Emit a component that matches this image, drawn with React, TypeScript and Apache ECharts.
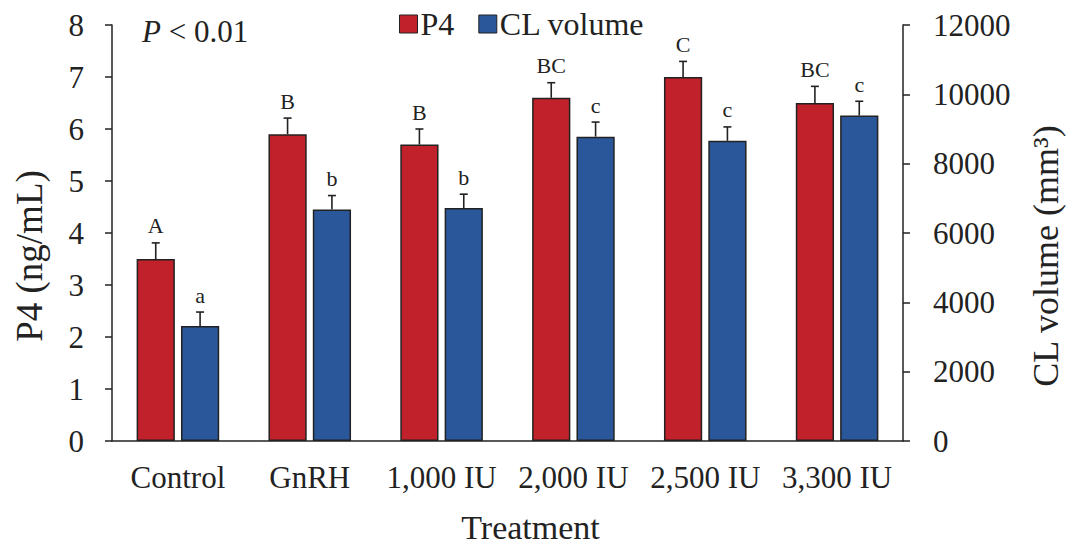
import React, { useEffect, useRef } from "react";
import * as echarts from "echarts";

const categories = ["Control", "GnRH", "1,000 IU", "2,000 IU", "2,500 IU", "3,300 IU"];
const p4Mean = [3.5, 5.9, 5.7, 6.6, 7.0, 6.5];
const p4SE = [0.31, 0.31, 0.3, 0.29, 0.3, 0.32];
const clMean = [3320, 6680, 6720, 8780, 8660, 9390];
const clSE = [400, 400, 400, 420, 400, 410];
const p4Letters = ["A", "B", "B", "BC", "C", "BC"];
const clLetters = ["a", "b", "b", "c", "c", "c"];
const leftTicks = { min: 0, max: 8, interval: 1 };
const rightTicks = { min: 0, max: 12000, interval: 2000 };

const FONT = "'Liberation Serif', 'Times New Roman', serif";
const RED = "#C1212A";
const BLUE = "#2A579A";
const DARK = "#222222";
const BAR_W = 0.29;
const BAR_GAP = 0.16;
const OFFSET = (BAR_W + BAR_W * BAR_GAP) / 2;

function errorRenderer(offsetFrac: number, letters: string[], letterSize: number) {
  return (params: any, api: any) => {
    const idx = api.value(0);
    const mean = api.value(1);
    const se = api.value(2);
    const band = api.size([1, 0])[0];
    const base = api.coord([idx, mean]);
    const top = api.coord([idx, mean + se]);
    const x = base[0] + band * offsetFrac;
    const cap = 4;
    const style = { stroke: DARK, lineWidth: 1.6 };
    return {
      type: "group",
      children: [
        { type: "line", shape: { x1: x, y1: base[1], x2: x, y2: top[1] }, style },
        { type: "line", shape: { x1: x - cap, y1: top[1], x2: x + cap, y2: top[1] }, style },
        {
          type: "text",
          x: x,
          y: top[1] - 6,
          style: {
            text: letters[params.dataIndex],
            fill: DARK,
            font: `${letterSize}px ${FONT}`,
            textAlign: "center",
            textVerticalAlign: "bottom",
          },
        },
      ],
    };
  };
}

export default function App() {
  const ref = useRef<HTMLDivElement>(null);
  useEffect(() => {
    if (!ref.current) return;
    const chart = echarts.init(ref.current, null, { renderer: "svg" });
    const axisLine = { show: true, lineStyle: { color: DARK, width: 1.5 } };
    chart.setOption({
      animation: false,
      backgroundColor: "#ffffff",
      textStyle: { fontFamily: FONT, color: DARK },
      grid: { left: 112, right: 165, top: 25, bottom: 107, outerBoundsMode: "none", containLabel: false },
      legend: {
        data: ["P4", "CL volume"],
        left: 394,
        top: 3,
        icon: "rect",
        itemWidth: 18,
        itemHeight: 18,
        itemGap: 24,
        itemStyle: { borderColor: DARK, borderWidth: 1 },
        textStyle: { fontFamily: FONT, fontSize: 32, color: DARK, padding: [0, 0, 0, -2] },
      },
      graphic: [
        {
          type: "text",
          left: 142,
          top: 16,
          style: {
            text: "{i|P} < 0.01",
            font: `31px ${FONT}`,
            fill: DARK,
            rich: { i: { fontStyle: "italic", fontSize: 31, fontFamily: FONT, fill: DARK } },
          } as any,
        },
      ],
      xAxis: {
        type: "category",
        data: categories,
        axisLine,
        axisTick: { show: false },
        axisLabel: { fontFamily: FONT, fontSize: 31, color: DARK, margin: 21, interval: 0 },
        name: "Treatment",
        nameLocation: "middle",
        nameGap: 69,
        nameTextStyle: { fontFamily: FONT, fontSize: 34, color: DARK, padding: [0, 0, 0, 46] },
      },
      yAxis: [
        {
          type: "value",
          ...leftTicks,
          axisLine,
          axisTick: { show: true, length: 7, lineStyle: { color: DARK, width: 1.5 } },
          splitLine: { show: false },
          axisLabel: { fontFamily: FONT, fontSize: 31, color: DARK, margin: 28 },
          name: "P4 (ng/mL)",
          nameLocation: "middle",
          nameGap: 64,
          nameTextStyle: { fontFamily: FONT, fontSize: 37, color: DARK, padding: [0, 46, 0, 0] },
        },
        {
          type: "value",
          position: "right",
          ...rightTicks,
          axisLine,
          axisTick: { show: true, length: 7, lineStyle: { color: DARK, width: 1.5 } },
          splitLine: { show: false },
          axisLabel: {
            fontFamily: FONT,
            fontSize: 31,
            color: DARK,
            margin: 30,
            formatter: (v: number) => String(v),
          },
          name: "CL volume (mm³)",
          nameLocation: "middle",
          nameGap: 125,
          nameRotate: 90,
          nameTextStyle: { fontFamily: FONT, fontSize: 36, color: DARK, padding: [0, 46, 0, 0] },
        },
      ],
      series: [
        {
          name: "P4",
          type: "bar",
          yAxisIndex: 0,
          data: p4Mean,
          barWidth: `${BAR_W * 100}%`,
          barGap: `${BAR_GAP * 100}%`,
          itemStyle: { color: RED, borderColor: DARK, borderWidth: 1.5 },
        },
        {
          name: "CL volume",
          type: "bar",
          yAxisIndex: 1,
          data: clMean,
          barWidth: `${BAR_W * 100}%`,
          barGap: `${BAR_GAP * 100}%`,
          itemStyle: { color: BLUE, borderColor: DARK, borderWidth: 1.5 },
        },
        {
          type: "custom",
          yAxisIndex: 0,
          z: 5,
          data: p4Mean.map((v, i) => [i, v, p4SE[i]]),
          renderItem: errorRenderer(-OFFSET, p4Letters, 22),
          silent: true,
        },
        {
          type: "custom",
          yAxisIndex: 1,
          z: 5,
          data: clMean.map((v, i) => [i, v, clSE[i]]),
          renderItem: errorRenderer(OFFSET, clLetters, 22),
          silent: true,
        },
      ],
    });
    return () => chart.dispose();
  }, []);
  return <div ref={ref} style={{ width: 1068, height: 548, position: "absolute", left: 0, top: 0 }} />;
}
